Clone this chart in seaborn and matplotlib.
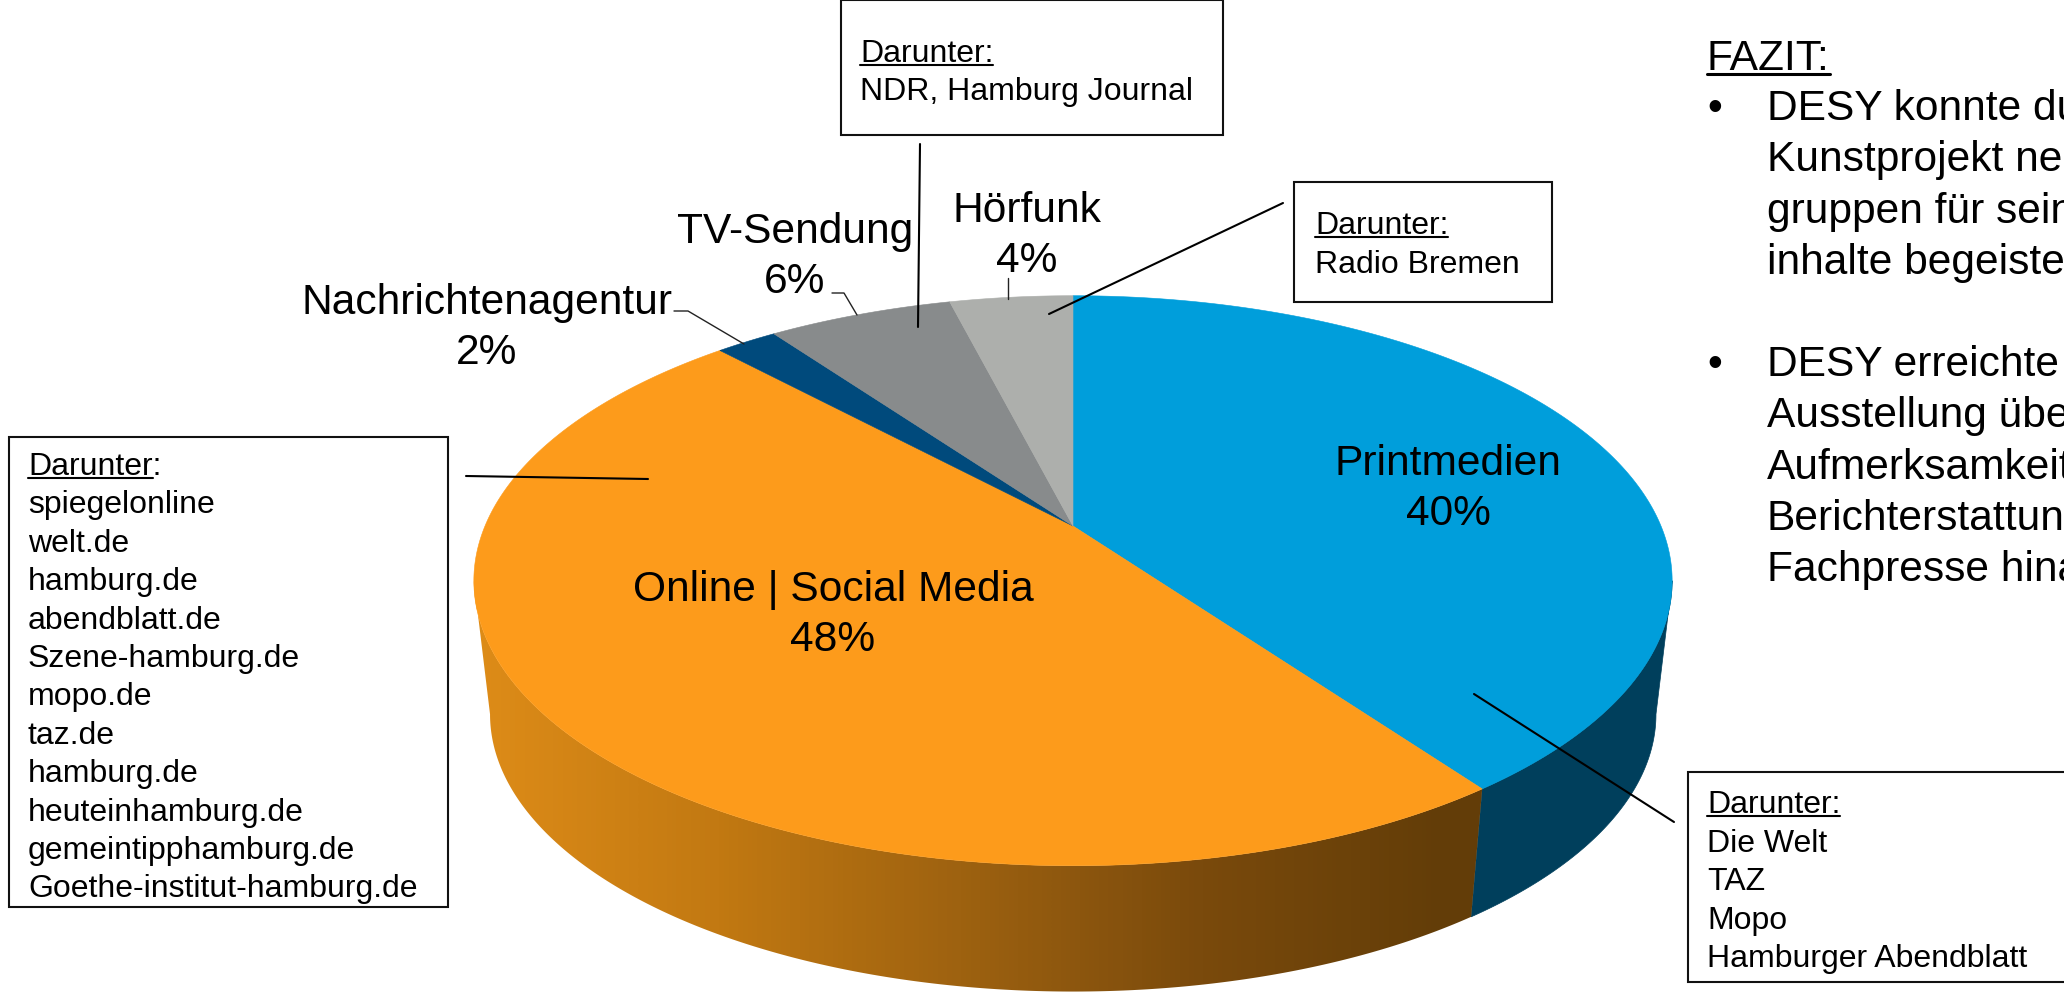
import numpy as np
import matplotlib
matplotlib.use("Agg")
import matplotlib.pyplot as plt
from matplotlib.patches import Polygon, Rectangle
from matplotlib.colors import ListedColormap
import seaborn as sns

# ---- data ----
categories = ["Printmedien", "Online | Social Media", "Nachrichtenagentur", "TV-Sendung", "Hörfunk"]
values = [40, 48, 2, 6, 4]
top_colors = ["#009EDB", "#FD9B1B", "#004A7C", "#888B8C", "#ADAFAC"]
print_side = "#003F5C"
gradient_stops = ["#DE8C18", "#C27912", "#9E6210", "#7A4A0C", "#633D08", "#633D08"]

left_list = ["spiegelonline", "welt.de", "hamburg.de", "abendblatt.de", "Szene-hamburg.de", "mopo.de",
             "taz.de", "hamburg.de", "heuteinhamburg.de", "gemeintipphamburg.de", "Goethe-institut-hamburg.de"]
print_list = ["Die Welt", "TAZ", "Mopo", "Hamburger Abendblatt"]
fazit_a = ["DESY konnte du", "Kunstprojekt ne", "gruppen für sein", "inhalte begeiste"]
fazit_b = ["DESY erreichte", "Ausstellung übe", "Aufmerksamkeit", "Berichterstattun", "Fachpresse hina"]

# ---- style ----
sns.set_theme(style="white")
plt.rcParams["font.family"] = ["Liberation Sans", "DejaVu Sans"]
W, H = 2064, 995
fig = plt.figure(figsize=(W / 100, H / 100), dpi=100, facecolor="white")
ax = fig.add_axes([0, 0, 1, 1])
ax.set_xlim(0, W)
ax.set_ylim(H, 0)
ax.axis("off")

BIG, SMALL = 30.6, 23

# ---- perspective pie geometry ----
CX, CY_TOP, CY_BOT = 1073, 527, 662
A, B, K, SHRINK = 274.5, 588, 0.192, 0.973
F_RIGHT = np.arccos(-K) / (2 * np.pi)   # where the rim is widest on the right
F_LEFT = 1 - F_RIGHT                    # ... and on the left


def project(frac, cy, s=1.0):
    th = 2 * np.pi * np.asarray(frac)
    x, y = np.sin(th), np.cos(th)
    d = 1 + K * y
    return CX + s * B * x / d, cy - s * A * y / d


bounds = np.concatenate([[0], np.cumsum(values)]) / sum(values)


def wall(f0, f1):
    f = np.linspace(f0, f1, 300)
    xt, yt = project(f, CY_TOP)
    xb, yb = project(f, CY_BOT, SHRINK)
    return np.column_stack([np.r_[xt, xb[::-1]], np.r_[yt, yb[::-1]]])


# side walls: only the front of the disc shows
ax.add_patch(Polygon(wall(F_RIGHT, bounds[1]), closed=True, fc=print_side, ec=print_side, lw=0.5, zorder=1))
poly = Polygon(wall(bounds[1], F_LEFT), closed=True, fc="none", ec="none", zorder=1)
ax.add_patch(poly)
cmap = ListedColormap(sns.blend_palette(gradient_stops, 256))
im = ax.imshow(np.linspace(0, 1, 256)[None, :], extent=(470, 1690, H + 40, 500),
               aspect="auto", cmap=cmap, zorder=1, interpolation="bilinear")
im.set_clip_path(poly)
ax.set_xlim(0, W)
ax.set_ylim(H, 0)

# top face
for i in range(len(values)):
    f = np.linspace(bounds[i], bounds[i + 1], 300)
    x, y = project(f, CY_TOP)
    pts = np.column_stack([np.r_[CX, x], np.r_[CY_TOP, y]])
    ax.add_patch(Polygon(pts, closed=True, fc=top_colors[i], ec=top_colors[i], lw=0.4, zorder=2))

# ---- category labels ----
label_pos = [(1448, 464), (833, 590), (487, 303), (795, 232), (1027, 211)]
for name, v, (lx, ly) in zip(categories, values, label_pos):
    ax.text(lx, ly, name, fontsize=BIG, ha="center", va="center", color="black", zorder=5)
    ax.text(lx, ly + 50, f"{v}%", fontsize=BIG, ha="center", va="center", color="black", zorder=5)

# thin label leaders
for xs, ys in [((674, 688, 744), (312, 312, 345)),
               ((832, 844, 857), (294, 294, 316)),
               ((1008, 1008), (279, 300))]:
    ax.plot(xs, ys, color="#222222", lw=1.0, zorder=4)

# callout leaders
for xs, ys in [((920, 918), (145, 328)),
               ((1283, 1049), (204, 315)),
               ((466, 648), (477, 480)),
               ((1474, 1674), (695, 823))]:
    ax.plot(xs, ys, color="black", lw=1.5, zorder=4)

fig.canvas.draw()
rend = fig.canvas.get_renderer()


def underlined(x, y, s, fontsize, under=None, lw=1.5):
    t = ax.text(x, y, s, fontsize=fontsize, ha="left", va="baseline", color="black", zorder=6)
    ref = under if under is not None else s
    w = ax.text(x, y, ref, fontsize=fontsize, ha="left", va="baseline", alpha=0)
    bb = w.get_window_extent(rend)
    w.remove()
    ax.plot([x, x + bb.width], [y + fontsize * 0.16, y + fontsize * 0.16], color="black", lw=lw, zorder=6)
    return t


def box(x0, y0, x1, y1):
    ax.add_patch(Rectangle((x0, y0), x1 - x0, y1 - y0, fc="white", ec="#111111", lw=1.5, zorder=3))


# top callout
box(841, 1, 1223, 136)
underlined(860, 62, "Darunter:", SMALL)
ax.text(860, 100, "NDR, Hamburg Journal", fontsize=SMALL, va="baseline", zorder=6, color="black")

# radio callout
box(1294, 183, 1552, 303)
underlined(1315, 234, "Darunter:", SMALL)
ax.text(1315, 273, "Radio Bremen", fontsize=SMALL, va="baseline", zorder=6, color="black")

# left callout
box(9, 438, 448, 908)
underlined(28, 475, "Darunter:", SMALL, under="Darunter")
for i, s in enumerate(left_list):
    ax.text(28, 475 + 38.4 * (i + 1), s, fontsize=SMALL, va="baseline", zorder=6, color="black")

# bottom right callout
box(1688, 773, 2075, 983)
underlined(1707, 813, "Darunter:", SMALL)
for i, s in enumerate(print_list):
    ax.text(1707, 813 + 38.5 * (i + 1), s, fontsize=SMALL, va="baseline", zorder=6, color="black")

# ---- Fazit ----
underlined(1707, 70, "FAZIT:", BIG, lw=2.2)
for group, y0 in [(fazit_a, 120), (fazit_b, 376)]:
    ax.text(1707, y0, "•", fontsize=BIG, va="baseline", color="black", zorder=6)
    for i, s in enumerate(group):
        ax.text(1767, y0 + 51.3 * i, s, fontsize=BIG, va="baseline", color="black", zorder=6)

fig.savefig("out.png", dpi=100, facecolor="white")
